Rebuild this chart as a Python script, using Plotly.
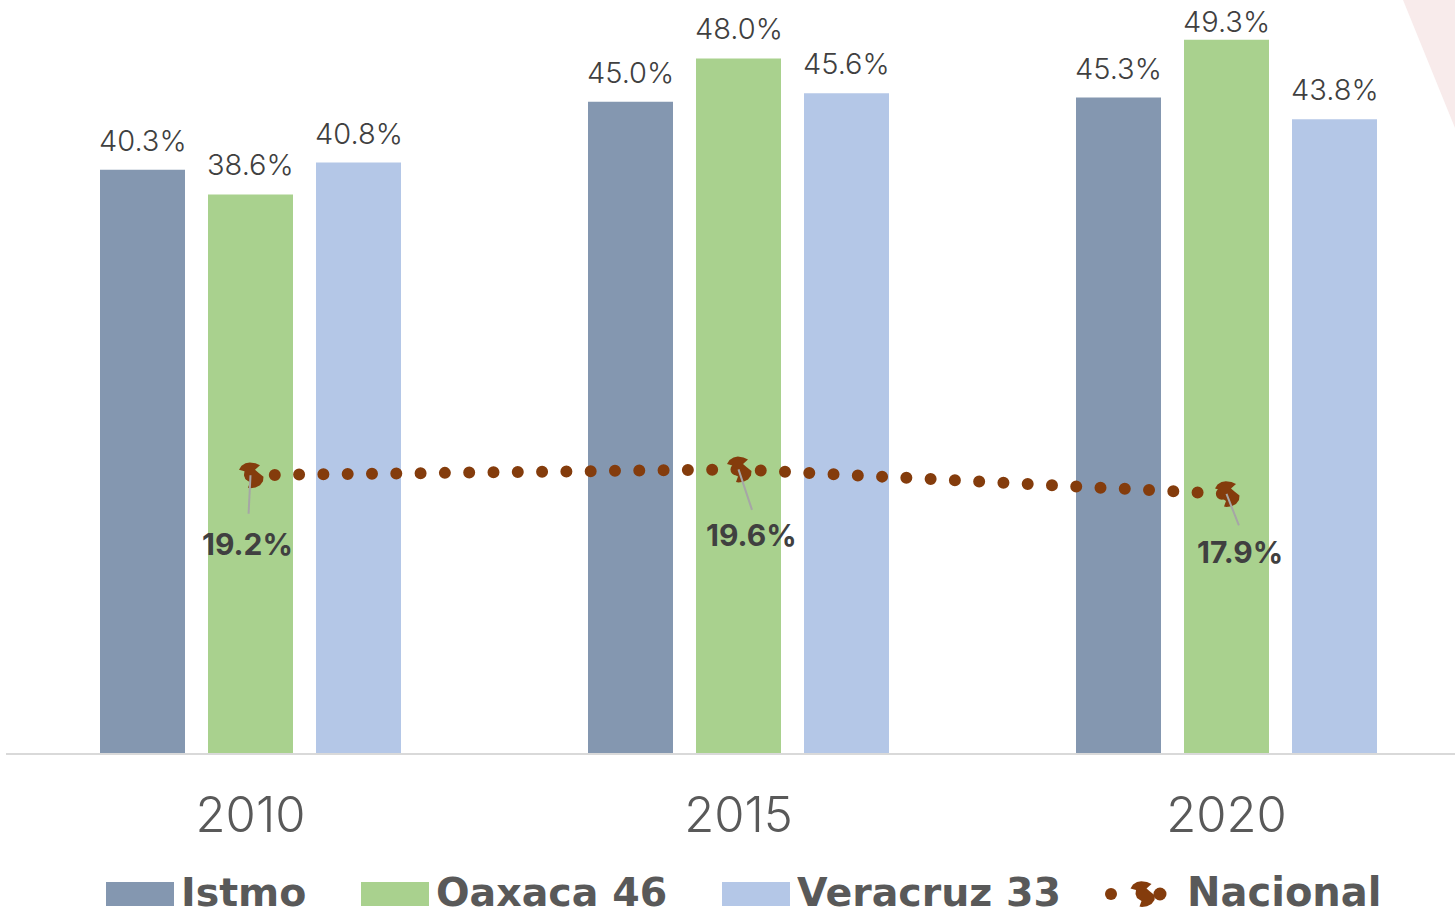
import plotly.graph_objects as go

# --- data ---
years = ["2010", "2015", "2020"]
istmo = [40.3, 45.0, 45.3]
oaxaca = [38.6, 48.0, 49.3]
veracruz = [40.8, 45.6, 43.8]
nacional = [19.2, 19.6, 17.9]
series_names = ["Istmo", "Oaxaca 46", "Veracruz 33"]
nacional_name = "Nacional"

# --- style / layout constants ---
W, H = 1455, 910
colors = ["#8497B0", "#A9D18E", "#B4C7E7"]
brown = "#843C0C"
FONT = "Inter"
LEG_FONT = "DejaVu Sans"
PX_PER_CAT = 488.0
PLOT_L, PLOT_R, BASE = 6, 1455, 753
PX_PER_UNIT = 14.47
STEP = 108 / PX_PER_CAT
xs = list(range(len(years)))
x0 = (PLOT_L - 250.5) / PX_PER_CAT
x1 = (PLOT_R - 250.5) / PX_PER_CAT


def px(x):
    return x / W


def py(y):
    return 1 - y / H


fig = go.Figure()
all_series = [istmo, oaxaca, veracruz]
for name, vals, col in zip(series_names, all_series, colors):
    fig.add_trace(go.Bar(x=xs, y=vals, name=name, marker=dict(color=col, line=dict(width=0)),
                         showlegend=False, hoverinfo="skip"))

fig.add_trace(go.Scatter(x=xs, y=nacional, name=nacional_name, mode="lines",
                         line=dict(color=brown, width=12, dash="0px,24.3px"),
                         showlegend=False, hoverinfo="skip", cliponaxis=False))

PIN = [(-11.5, -5.5), (-9, -9.5), (-5, -12), (-0.7, -12.8), (5, -12), (9.5, -10), (4.5, -5.5),
       (8, -2.5), (13, 1.5), (12.5, 6), (9.5, 10), (5, 12.3), (0, 13), (-2.5, 12.5), (-0.5, 7),
       (-5, 4), (-6.5, 0), (-6, -4)]


def pin_path(dx=0.0):
    pts = [f"{x + dx:.1f},{-y:.1f}" for x, y in PIN]
    return "M" + " L".join(pts) + " Z"


shapes = []
for xi, v in zip(xs, nacional):
    shapes.append(dict(type="path", xref="x", yref="y", xsizemode="pixel", ysizemode="pixel",
                       xanchor=xi, yanchor=v, path=pin_path(), fillcolor=brown,
                       line=dict(width=0), layer="above"))

# faint corner decoration
shapes.append(dict(type="path", xref="paper", yref="paper", layer="below",
                   path=f"M{px(1403)},{py(0)} L{px(1455)},{py(128)} L{px(1455)},{py(0)} Z",
                   fillcolor="#F8EBEB", line=dict(width=0)))

annotations = []
# bar value labels; the tallest bar's label sits closer to its bar, as in the reference
for j, vals in enumerate(all_series):
    for xi, v in zip(xs, vals):
        shift = -1 if v == max(oaxaca) else 10
        annotations.append(dict(x=xi + (j - 1) * STEP, y=v, xref="x", yref="y", text=f"{v:.1f}%",
                                showarrow=False, yanchor="bottom", xanchor="center", yshift=shift,
                                font=dict(family=FONT, size=29, color="#404040", weight=300)))

# nacional leader lines and labels (pixel offsets from the point)
leader_ends = [(-2, 40), (14, 42), (13, 33)]
label_shifts = [(-3, 69), (13, 66), (13, 58)]
for xi, v, (ax, ay), (sx, sy) in zip(xs, nacional, leader_ends, label_shifts):
    annotations.append(dict(x=xi, y=v, xref="x", yref="y", text="",
                            showarrow=True, arrowhead=0, arrowwidth=2, arrowcolor="#A6A6A6",
                            ax=ax, ay=ay, axref="pixel", ayref="pixel"))
    annotations.append(dict(x=xi, y=v, xref="x", yref="y", text=f"<b>{v:.1f}%</b>",
                            showarrow=False, xshift=sx, yshift=-sy, xanchor="center", yanchor="middle",
                            font=dict(family=FONT, size=30, color="#404040")))

# hand-placed legend matching the reference layout
LEG_TOP, LEG_BOT, LEG_MID = 882, 906, 892
for name, col, sx, tx in zip(series_names, colors, [106, 361, 722], [179, 434, 795]):
    shapes.append(dict(type="rect", xref="paper", yref="paper", x0=px(sx), x1=px(sx + 68),
                       y0=py(LEG_BOT), y1=py(LEG_TOP), fillcolor=col, line=dict(width=0)))
    annotations.append(dict(x=px(tx), y=py(LEG_MID), xref="paper", yref="paper", text=f"<b>{name}</b>",
                            showarrow=False, xanchor="left", yanchor="middle", height=36,
                            font=dict(family=LEG_FONT, size=39.5, color="#595959")))
annotations.append(dict(x=px(1185), y=py(LEG_MID), xref="paper", yref="paper", text=f"<b>{nacional_name}</b>",
                        showarrow=False, xanchor="left", yanchor="middle", height=36,
                        font=dict(family=LEG_FONT, size=40, color="#595959")))
for cx, r in [(1111, 6), (1160, 6.5)]:
    shapes.append(dict(type="circle", xref="paper", yref="paper", x0=px(cx - r), x1=px(cx + r),
                       y0=py(894 + r), y1=py(894 - r), fillcolor=brown, line=dict(width=0)))
shapes.append(dict(type="path", xref="paper", yref="paper", xsizemode="pixel", ysizemode="pixel",
                   xanchor=px(1142), yanchor=py(894), path=pin_path(), fillcolor=brown, line=dict(width=0)))

fig.update_layout(
    width=W, height=H, margin=dict(l=0, r=0, t=0, b=0),
    paper_bgcolor="white", plot_bgcolor="rgba(0,0,0,0)",
    barmode="group", bargap=1 - 3 * STEP, bargroupgap=1 - 85 / 108,
    showlegend=False, shapes=shapes, annotations=annotations,
    xaxis=dict(domain=[PLOT_L / W, PLOT_R / W], range=[x0, x1], tickmode="array", tickvals=xs,
               ticktext=years, showgrid=False, zeroline=False, showline=True, linecolor="#D9D9D9",
               linewidth=2, ticks="", ticklabelstandoff=18,
               tickfont=dict(family=FONT, size=49, color="#595959", weight=300)),
    yaxis=dict(domain=[1 - BASE / H, 1], range=[0, BASE / PX_PER_UNIT], visible=False),
)

fig.write_html(
    "out.html",
    config={"displayModeBar": False},
    post_script=(
        "document.body.style.margin='0';"
        "document.querySelectorAll('.scatterlayer .js-line').forEach(function(p){"
        "p.style.strokeLinecap='round';});"
    ),
)
